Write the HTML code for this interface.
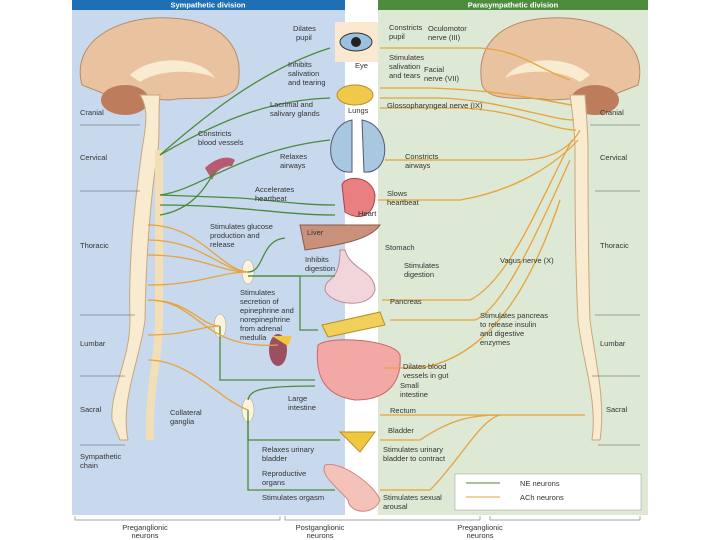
<!DOCTYPE html>
<html><head><meta charset="utf-8"><style>
body{margin:0;background:#fff}
svg{display:block}
text{font-family:"Liberation Sans",sans-serif;font-size:7.5px;fill:#333}
.h{fill:#fff;font-size:7.5px;font-weight:bold}
.g{fill:none;stroke:#4a8a3a;stroke-width:1.3}
.o{fill:none;stroke:#e8a33a;stroke-width:1.3}
</style></head><body>
<svg width="720" height="540" viewBox="0 0 720 540">
<rect x="72" y="0" width="273" height="515" fill="#c8d9ee"/>
<rect x="72" y="0" width="273" height="10" fill="#1f6fb5"/>
<rect x="378" y="0" width="270" height="515" fill="#dde8d5"/>
<rect x="378" y="0" width="270" height="10" fill="#4d8c3d"/>
<text x="208" y="7.5" class="h" text-anchor="middle">Sympathetic division</text>
<text x="513" y="7.5" class="h" text-anchor="middle">Parasympathetic division</text>
<!-- left brain -->
<path d="M82 85 C70 40 120 15 170 18 C220 20 245 45 238 85 C230 105 190 95 170 100 C150 100 130 95 120 100 Z" fill="#e9c3a0" stroke="#b88a6a"/>
<path d="M130 75 C150 55 200 55 215 78 C200 70 160 68 140 82 Z" fill="#f8ebd0"/>
<ellipse cx="125" cy="100" rx="24" ry="15" fill="#bd7d5d"/>
<path d="M140 95 C150 110 145 130 142 150 C135 200 128 260 130 320 C130 360 110 390 112 420 L120 440 L128 440 C120 400 140 360 145 320 C146 260 150 200 158 150 C160 130 158 110 160 95 Z" fill="#f8ebd0" stroke="#c9a77a"/>
<path d="M159 150 L159 320 C159 360 148 390 150 440" fill="none" stroke="#f2dfb5" stroke-width="8"/>
<!-- right brain -->
<path d="M638 85 C650 40 600 15 550 18 C500 20 475 45 482 85 C490 105 530 95 550 100 C570 100 590 95 600 100 Z" fill="#e9c3a0" stroke="#b88a6a"/>
<path d="M590 75 C570 55 520 55 505 78 C520 70 560 68 580 82 Z" fill="#f8ebd0"/>
<ellipse cx="595" cy="100" rx="24" ry="15" fill="#bd7d5d"/>
<path d="M570 95 C572 110 575 130 575 150 C575 200 575 260 578 320 C582 360 598 400 592 440 L600 440 C606 400 595 360 590 320 C588 260 588 200 588 150 C588 130 586 110 585 95 Z" fill="#f8ebd0" stroke="#c9a77a"/>
<!-- dividers -->
<g stroke="#555" stroke-width="0.6">
<line x1="80" y1="125" x2="140" y2="125"/><line x1="80" y1="191" x2="140" y2="191"/><line x1="80" y1="315" x2="135" y2="315"/><line x1="80" y1="376" x2="125" y2="376"/><line x1="80" y1="445" x2="125" y2="445"/>
<line x1="590" y1="125" x2="640" y2="125"/><line x1="595" y1="191" x2="640" y2="191"/><line x1="595" y1="315" x2="640" y2="315"/><line x1="592" y1="376" x2="640" y2="376"/><line x1="598" y1="445" x2="640" y2="445"/>
</g>
<text x="80" y="115">Cranial</text><text x="80" y="160">Cervical</text><text x="80" y="248">Thoracic</text><text x="80" y="346">Lumbar</text><text x="80" y="412">Sacral</text>
<text x="600" y="115">Cranial</text><text x="600" y="160">Cervical</text><text x="600" y="248">Thoracic</text><text x="600" y="346">Lumbar</text><text x="606" y="412">Sacral</text>
<!-- organs -->
<rect x="335" y="22" width="43" height="40" fill="#fbe8d0"/>
<ellipse cx="356" cy="42" rx="16" ry="9" fill="#9cc0e0" stroke="#333"/><circle cx="356" cy="42" r="5" fill="#222"/>
<ellipse cx="355" cy="95" rx="18" ry="10" fill="#f0c84a" stroke="#b98e20"/>
<path d="M352 120 C325 125 322 175 352 172 Z M362 120 C392 125 392 175 364 172 Z" fill="#a8c8e0" stroke="#557"/>
<path d="M342 185 C345 175 372 175 375 195 C375 215 360 222 345 212 Z" fill="#e97f80" stroke="#a44"/>
<path d="M300 225 L380 225 C370 240 340 245 305 250 Z" fill="#c9907a" stroke="#8a5a4a"/>
<path d="M345 250 C350 270 375 270 375 290 C370 310 330 305 325 290 C325 275 340 285 340 250 Z" fill="#f2d5da" stroke="#b89"/>
<path d="M322 325 L380 312 L385 325 L328 337 Z" fill="#f0cf5a" stroke="#b98e20"/>
<path d="M318 345 C330 335 395 340 400 355 C402 380 390 400 355 400 C320 395 315 370 318 345 Z" fill="#f2a9a5" stroke="#c66"/>
<path d="M340 432 L375 432 L360 452 Z" fill="#f0c840" stroke="#b98e20"/>
<path d="M325 465 C340 460 375 485 380 500 C375 515 350 515 348 500 C335 485 320 475 325 465 Z" fill="#f4c2b8" stroke="#c88"/>
<path d="M205 168 C215 158 228 155 235 160 L232 166 C222 166 215 172 212 180 Z" fill="#b85a72"/>
<ellipse cx="278" cy="350" rx="9" ry="16" fill="#9a5060"/><path d="M272 336 L292 336 L288 346 Z" fill="#f0c840"/>
<ellipse cx="248" cy="272" rx="6" ry="12" fill="#fbf3dc" stroke="#999" stroke-width="0.5"/>
<ellipse cx="220" cy="326" rx="6" ry="12" fill="#fbf3dc" stroke="#999" stroke-width="0.5"/>
<ellipse cx="248" cy="410" rx="6" ry="12" fill="#fbf3dc" stroke="#999" stroke-width="0.5"/>
<!-- green lines -->
<path class="g" d="M160 155 C200 120 260 70 330 48"/>
<path class="g" d="M160 155 C220 120 270 100 330 98"/>
<path class="g" d="M160 195 C200 190 240 150 330 140"/>
<path class="g" d="M160 195 L240 198 C270 200 300 205 335 205"/>
<path class="g" d="M160 205 C240 205 280 215 335 215"/>
<path class="g" d="M160 215 C190 210 205 190 215 170"/>
<path class="g" d="M248 272 C265 272 260 240 285 238"/>
<path class="g" d="M248 276 L335 276"/>
<path class="g" d="M248 276 L300 276 L300 330 L318 330"/>
<path class="g" d="M220 326 L220 380 L315 380"/>
<path class="g" d="M248 400 C250 390 260 386 315 386"/>
<path class="g" d="M248 410 L248 440 L340 440"/>
<path class="g" d="M248 420 L248 490 L335 490"/>
<!-- orange left -->
<g class="o">
<path d="M148 225 C200 225 220 270 248 272"/><path d="M148 240 C200 240 220 270 248 272"/><path d="M148 255 C200 255 220 272 248 272"/><path d="M148 285 C200 285 220 272 248 272"/>
<path d="M148 300 C190 300 200 326 220 326"/><path d="M148 335 C190 335 200 326 220 326"/>
<path d="M148 360 C190 360 220 400 248 410"/><path d="M148 300 C200 300 200 350 278 345"/>
</g>
<!-- orange right -->
<g class="o">
<path d="M380 48 L480 48 C520 50 540 70 570 80"/>
<path d="M380 88 L430 88 C500 90 540 100 572 105"/>
<path d="M380 98 L440 98 C500 100 550 120 574 120"/>
<path d="M380 108 L460 108 C520 110 550 130 576 130"/>
<path d="M385 160 L520 160 C560 160 575 140 580 130"/>
<path d="M378 200 L460 200 C520 190 560 160 578 140"/>
<path d="M382 300 L470 300 C510 280 540 200 572 140"/>
<path d="M390 320 L475 320 C500 310 530 250 570 160"/>
<path d="M385 368 L420 368 C470 360 520 320 560 200"/>
<path d="M380 415 L585 415"/>
<path d="M380 440 L420 440 C450 420 470 415 500 415"/>
<path d="M380 490 L430 490 C460 460 480 420 500 415"/>
</g>
<!-- labels -->
<text x="293" y="31">Dilates</text><text x="296" y="40">pupil</text>
<text x="389" y="30">Constricts</text><text x="389" y="39">pupil</text>
<text x="428" y="31">Oculomotor</text><text x="428" y="40">nerve (III)</text>
<text x="288" y="67">Inhibits</text><text x="288" y="76">salivation</text><text x="288" y="85">and tearing</text>
<text x="355" y="68">Eye</text>
<text x="389" y="60">Stimulates</text><text x="389" y="69">salivation</text><text x="389" y="78">and tears</text>
<text x="424" y="72">Facial</text><text x="424" y="81">nerve (VII)</text>
<text x="270" y="107">Lacrimal and</text><text x="270" y="116">salivary glands</text>
<text x="348" y="113">Lungs</text>
<text x="387" y="108">Glossopharyngeal nerve (IX)</text>
<text x="198" y="136">Constricts</text><text x="198" y="145">blood vessels</text>
<text x="280" y="159">Relaxes</text><text x="280" y="168">airways</text>
<text x="405" y="159">Constricts</text><text x="405" y="168">airways</text>
<text x="255" y="192">Accelerates</text><text x="255" y="201">heartbeat</text>
<text x="387" y="196">Slows</text><text x="387" y="205">heartbeat</text>
<text x="358" y="216">Heart</text>
<text x="210" y="229">Stimulates glucose</text><text x="210" y="238">production and</text><text x="210" y="247">release</text>
<text x="307" y="235">Liver</text>
<text x="385" y="250">Stomach</text>
<text x="305" y="262">Inhibits</text><text x="305" y="271">digestion</text>
<text x="404" y="268">Stimulates</text><text x="404" y="277">digestion</text>
<text x="500" y="263">Vagus nerve (X)</text>
<text x="240" y="295">Stimulates</text><text x="240" y="304">secretion of</text><text x="240" y="313">epinephrine and</text><text x="240" y="322">norepinephrine</text><text x="240" y="331">from adrenal</text><text x="240" y="340">medulla</text>
<text x="390" y="304">Pancreas</text>
<text x="480" y="318">Stimulates pancreas</text><text x="480" y="327">to release insulin</text><text x="480" y="336">and digestive</text><text x="480" y="345">enzymes</text>
<text x="403" y="369">Dilates blood</text><text x="403" y="378">vessels in gut</text>
<text x="400" y="388">Small</text><text x="400" y="397">intestine</text>
<text x="288" y="401">Large</text><text x="288" y="410">intestine</text>
<text x="390" y="413">Rectum</text>
<text x="170" y="415">Collateral</text><text x="170" y="424">ganglia</text>
<text x="388" y="433">Bladder</text>
<text x="262" y="452">Relaxes urinary</text><text x="262" y="461">bladder</text>
<text x="383" y="452">Stimulates urinary</text><text x="383" y="461">bladder to contract</text>
<text x="80" y="459">Sympathetic</text><text x="80" y="468">chain</text>
<text x="262" y="476">Reproductive</text><text x="262" y="485">organs</text>
<text x="262" y="500">Stimulates orgasm</text>
<text x="383" y="500">Stimulates sexual</text><text x="383" y="509">arousal</text>
<rect x="455" y="474" width="186" height="36" fill="#fff" stroke="#999" stroke-width="0.5"/>
<line x1="466" y1="483" x2="500" y2="483" stroke="#4a8a3a"/><text x="520" y="486">NE neurons</text>
<line x1="466" y1="497" x2="500" y2="497" stroke="#e8a33a"/><text x="520" y="500">ACh neurons</text>
<g fill="none" stroke="#888" stroke-width="0.7">
<path d="M75 516 L75 520 L280 520 L280 516 M285 516 L285 520 L480 520 L480 516 M490 516 L490 520 L640 520 L640 516"/>
</g>
<text x="145" y="530" text-anchor="middle">Preganglionic</text><text x="145" y="538" text-anchor="middle">neurons</text>
<text x="320" y="530" text-anchor="middle">Postganglionic</text><text x="320" y="538" text-anchor="middle">neurons</text>
<text x="480" y="530" text-anchor="middle">Preganglionic</text><text x="480" y="538" text-anchor="middle">neurons</text>
</svg>
</body></html>
